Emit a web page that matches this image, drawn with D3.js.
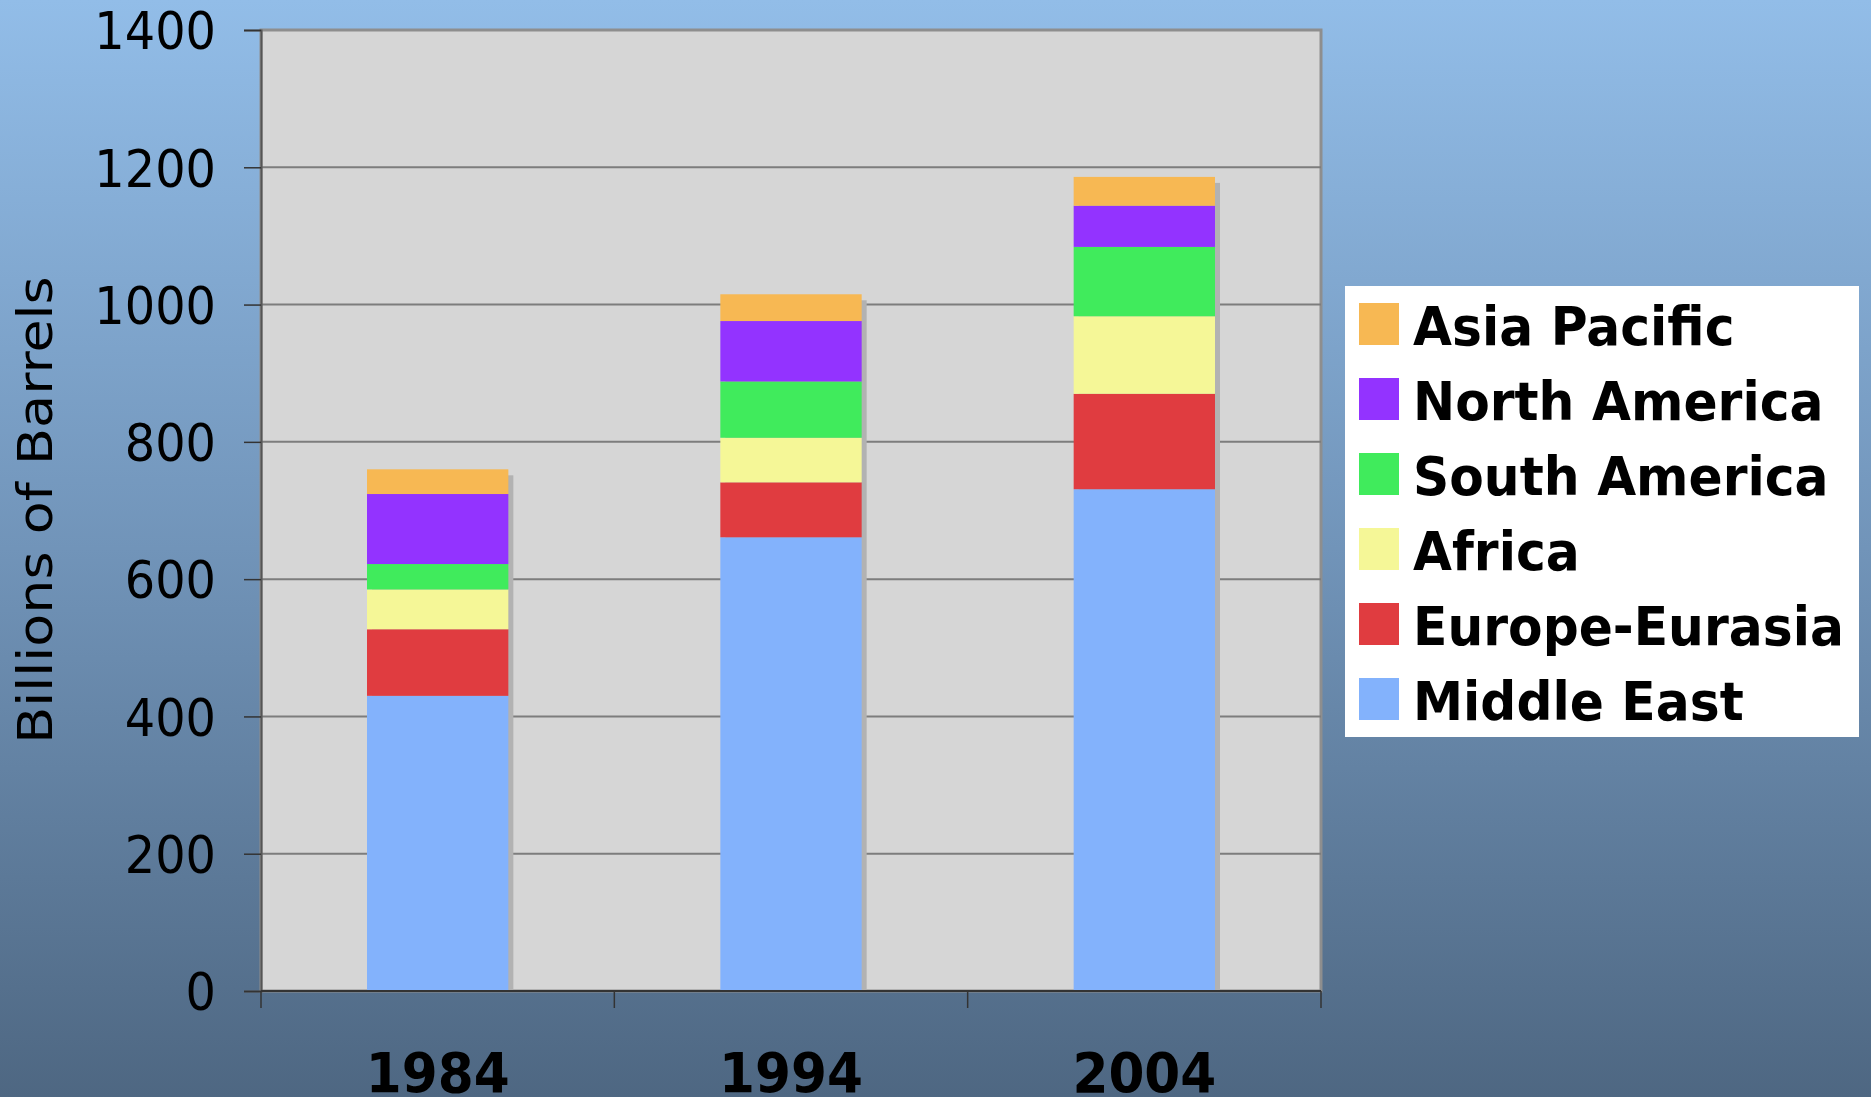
<!DOCTYPE html>
<html>
<head>
<meta charset="utf-8">
<script src="https://cdn.jsdelivr.net/npm/d3@7"></script>
<style>
  html, body { margin: 0; padding: 0; overflow: hidden; }
  svg { display: block; }
</style>
</head>
<body>
<div id="chart"></div>
<script>
// data (billions of barrels)
var years = ["1984", "1994", "2004"];
var regions = ["Middle East", "Europe-Eurasia", "Africa", "South America", "North America", "Asia Pacific"];
var middleEast = [430, 661, 731];
var europeEurasia = [97, 80, 139];
var africa = [58, 65, 113];
var southAmerica = [37, 82, 101];
var northAmerica = [102, 88, 60];
var asiaPacific = [36, 39, 42];
var yTicks = [0, 200, 400, 600, 800, 1000, 1200, 1400];
var colors = ["#83b2fc", "#e03c40", "#f5f797", "#40eb5c", "#9333ff", "#f7b853"];

var W = 1871, H = 1097;
var plotL = 261, plotR = 1321, plotT = 30, plotB = 991;
var font = "'DejaVu Sans', Verdana, sans-serif";

var svg = d3.select("#chart").append("svg")
  .attr("width", W).attr("height", H);

// background gradient
var grad = svg.append("defs").append("linearGradient")
  .attr("id", "bg").attr("x1", 0).attr("y1", 0).attr("x2", 0).attr("y2", 1);
grad.append("stop").attr("offset", "0%").attr("stop-color", "#92bde8");
grad.append("stop").attr("offset", "50%").attr("stop-color", "#7194b9");
grad.append("stop").attr("offset", "100%").attr("stop-color", "#4e6782");
svg.append("rect").attr("width", W).attr("height", H).attr("fill", "url(#bg)");

var table = years.map(function(yr, i) {
  return {
    year: yr,
    "Middle East": middleEast[i],
    "Europe-Eurasia": europeEurasia[i],
    "Africa": africa[i],
    "South America": southAmerica[i],
    "North America": northAmerica[i],
    "Asia Pacific": asiaPacific[i]
  };
});
var series = d3.stack().keys(regions)(table);

var x = d3.scaleBand().domain(years).range([plotL, plotR]).padding(0);
var y = d3.scaleLinear().domain([0, 1400]).range([plotB, plotT]);
var barW = x.bandwidth() * 0.4;
var color = d3.scaleOrdinal().domain(regions).range(colors);

// plot area
svg.append("rect")
  .attr("x", plotL).attr("y", plotT)
  .attr("width", plotR - plotL).attr("height", plotB - plotT)
  .attr("fill", "#d6d6d6")
  .attr("stroke", "#8e8e8e").attr("stroke-width", 3);

// gridlines
svg.append("g").selectAll("line")
  .data(yTicks.filter(function(d) { return d > 0 && d < 1400; }))
  .enter().append("line")
  .attr("x1", plotL).attr("x2", plotR)
  .attr("y1", function(d) { return y(d); }).attr("y2", function(d) { return y(d); })
  .attr("stroke", "#7d7d7d").attr("stroke-width", 2);

// shadows
var totals = table.map(function(d) { return d3.sum(regions, function(k) { return d[k]; }); });
svg.append("g").selectAll("rect")
  .data(years)
  .enter().append("rect")
  .attr("x", function(d) { return x(d) + (x.bandwidth() - barW) / 2 + 5; })
  .attr("y", function(d, i) { return y(totals[i]) + 6; })
  .attr("width", barW)
  .attr("height", function(d, i) { return plotB - y(totals[i]) - 6; })
  .attr("fill", "#b2b2b2");

// bars
svg.append("g").selectAll("g")
  .data(series)
  .enter().append("g")
  .attr("fill", function(d) { return color(d.key); })
  .selectAll("rect")
  .data(function(d) { return d; })
  .enter().append("rect")
  .attr("x", function(d) { return x(d.data.year) + (x.bandwidth() - barW) / 2; })
  .attr("y", function(d) { return y(d[1]); })
  .attr("width", barW)
  .attr("height", function(d) { return y(d[0]) - y(d[1]); });

// y axis
var sy = 0.92;
var yAxis = svg.append("g")
  .attr("transform", "translate(" + plotL + ",0)")
  .call(d3.axisLeft(y).tickValues(yTicks).tickSize(17).tickFormat(d3.format("d")));
yAxis.select(".domain").attr("stroke", "#555").attr("stroke-width", 2);
yAxis.selectAll(".tick line").attr("stroke", "#333").attr("stroke-width", 1.5);
yAxis.selectAll(".tick text")
  .attr("x", -45 / sy).attr("dy", "0.36em")
  .attr("transform", "scale(" + sy + ",1)")
  .attr("fill", "#000")
  .style("font-family", font)
  .style("font-size", "52px");

// x axis
var xAxis = svg.append("g")
  .attr("transform", "translate(0," + plotB + ")");
xAxis.append("line")
  .attr("x1", plotL).attr("x2", plotR).attr("y1", 0).attr("y2", 0)
  .attr("stroke", "#333").attr("stroke-width", 2);
var bounds = years.map(function(d) { return x(d); }).concat([plotR]);
xAxis.selectAll("line.tk")
  .data(bounds)
  .enter().append("line")
  .attr("class", "tk")
  .attr("x1", function(d) { return d; }).attr("x2", function(d) { return d; })
  .attr("y1", 0).attr("y2", 17)
  .attr("stroke", "#333").attr("stroke-width", 1.5);

var sx = 0.94;
svg.append("g").selectAll("g")
  .data(years)
  .enter().append("g")
  .attr("transform", function(d) { return "translate(" + (x(d) + x.bandwidth() / 2) + ",1092)"; })
  .append("text")
  .attr("transform", "scale(" + sx + ",1)")
  .attr("text-anchor", "middle")
  .style("font-family", font)
  .style("font-weight", "bold")
  .style("font-size", "55px")
  .text(function(d) { return d; });

// y title
svg.append("g")
  .attr("transform", "translate(52,510)")
  .append("text")
  .attr("transform", "scale(0.9,1) rotate(-90)")
  .attr("text-anchor", "middle")
  .style("font-family", font)
  .style("font-size", "54px")
  .text("Billions of Barrels");

// legend
var legend = svg.append("g");
legend.append("rect")
  .attr("x", 1345).attr("y", 286).attr("width", 514).attr("height", 451)
  .attr("fill", "#fff");
var items = legend.selectAll("g.item")
  .data(regions.slice().reverse())
  .enter().append("g")
  .attr("class", "item")
  .attr("transform", function(d, i) { return "translate(1359," + (303 + i * 75) + ")"; });
items.append("rect")
  .attr("width", 40).attr("height", 42)
  .attr("fill", function(d) { return color(d); });
items.append("g")
  .attr("transform", "translate(54,42)")
  .append("text")
  .attr("transform", "scale(0.95,1)")
  .style("font-family", font)
  .style("font-weight", "bold")
  .style("font-size", "53px")
  .text(function(d) { return d; });
</script>
</body>
</html>
